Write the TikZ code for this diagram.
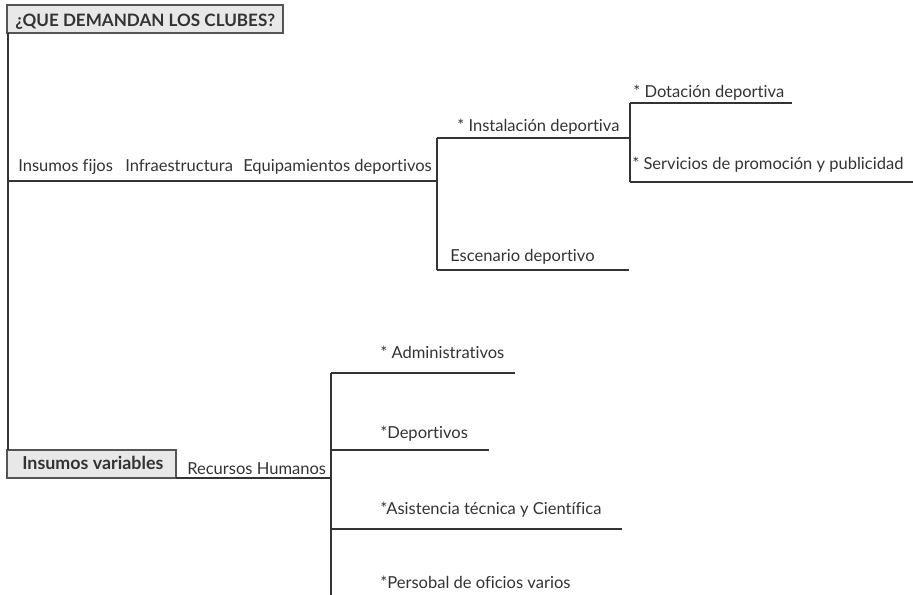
\documentclass[tikz,border=0pt]{standalone}
\usepackage{fontspec}
\setmainfont[RawFeature={-liga;-dlig;-clig}]{Lato}
\definecolor{ink}{HTML}{333333}
\definecolor{boxfill}{HTML}{E8E8E8}
\definecolor{boxline}{HTML}{555555}
\begin{document}
\begin{tikzpicture}[x=0.75pt,y=-0.75pt,
  lbl/.style={anchor=base west,inner sep=0pt,text=ink,font=\fontsize{12.4}{14}\selectfont},
  bold/.style={lbl,font=\fontsize{12.8}{14}\selectfont\bfseries},
  boldvar/.style={lbl,font=\fontsize{13.4}{15}\selectfont\bfseries},
  ln/.style={draw=ink,line width=0.8pt},
  hbox/.style={draw=boxline,fill=boxfill,line width=0.8pt}]
\useasboundingbox (0,0) rectangle (913,595);
% boxes
\filldraw[hbox] (7,5) rectangle (283,33);
\filldraw[hbox] (7,450) rectangle (176,478);
% coordinates
\coordinate (tb) at (8,33);
\coordinate (vb) at (8,450);
\coordinate (m1) at (8,181);
\coordinate (m2) at (437,181);
\coordinate (j1) at (437,138);
\coordinate (j2) at (437,270);
\coordinate (i1) at (630,138);
\coordinate (e1) at (629,270);
\coordinate (k1) at (630,103);
\coordinate (k2) at (630,182);
\coordinate (d1) at (792,103);
\coordinate (s1) at (913,182);
\coordinate (r0) at (176,478);
\coordinate (r1) at (331,478);
\coordinate (h1) at (331,373);
\coordinate (h2) at (331,595);
\coordinate (a1) at (331,373);
\coordinate (a2) at (515,373);
\coordinate (p1) at (331,450);
\coordinate (p2) at (489,450);
\coordinate (c1) at (331,529);
\coordinate (c2) at (622,529);
% lines
\draw[ln] (tb) -- (vb);
\draw[ln] (m1) -- (m2);
\draw[ln] (j1) -- (j2);
\draw[ln] (j1) -- (i1);
\draw[ln] (j2) -- (e1);
\draw[ln] (k1) -- (k2);
\draw[ln] (k1) -- (d1);
\draw[ln] (k2) -- (s1);
\draw[ln] (r0) -- (r1);
\draw[ln] (h1) -- (h2);
\draw[ln] (a1) -- (a2);
\draw[ln] (p1) -- (p2);
\draw[ln] (c1) -- (c2);
% texts
\node[bold] (title) at (15,27) {¿QUE DEMANDAN LOS CLUBES?};
\node[lbl] (fijos) at (18,172) {Insumos fijos};
\node[lbl] (infra) at (125,172) {Infraestructura};
\node[lbl] (equip) at (243,172) {Equipamientos deportivos};
\node[lbl] (inst) at (457,132) {* Instalación deportiva};
\node[lbl] (dot) at (633,98) {* Dotación deportiva};
\node[lbl] (serv) at (632,170) {* Servicios de promoción y publicidad};
\node[lbl] (esc) at (450,262) {Escenario deportivo};
\node[boldvar] (var) at (22,469) {Insumos variables};
\node[lbl] (rrhh) at (187,474) {Recursos Humanos};
\node[lbl] (adm) at (380,358) {* Administrativos};
\node[lbl] (dep) at (380,438) {*Deportivos};
\node[lbl] (asis) at (380,514) {*Asistencia técnica y Científica};
\node[lbl] (pers) at (380,588) {*Persobal de oficios varios};
\end{tikzpicture}
\end{document}
